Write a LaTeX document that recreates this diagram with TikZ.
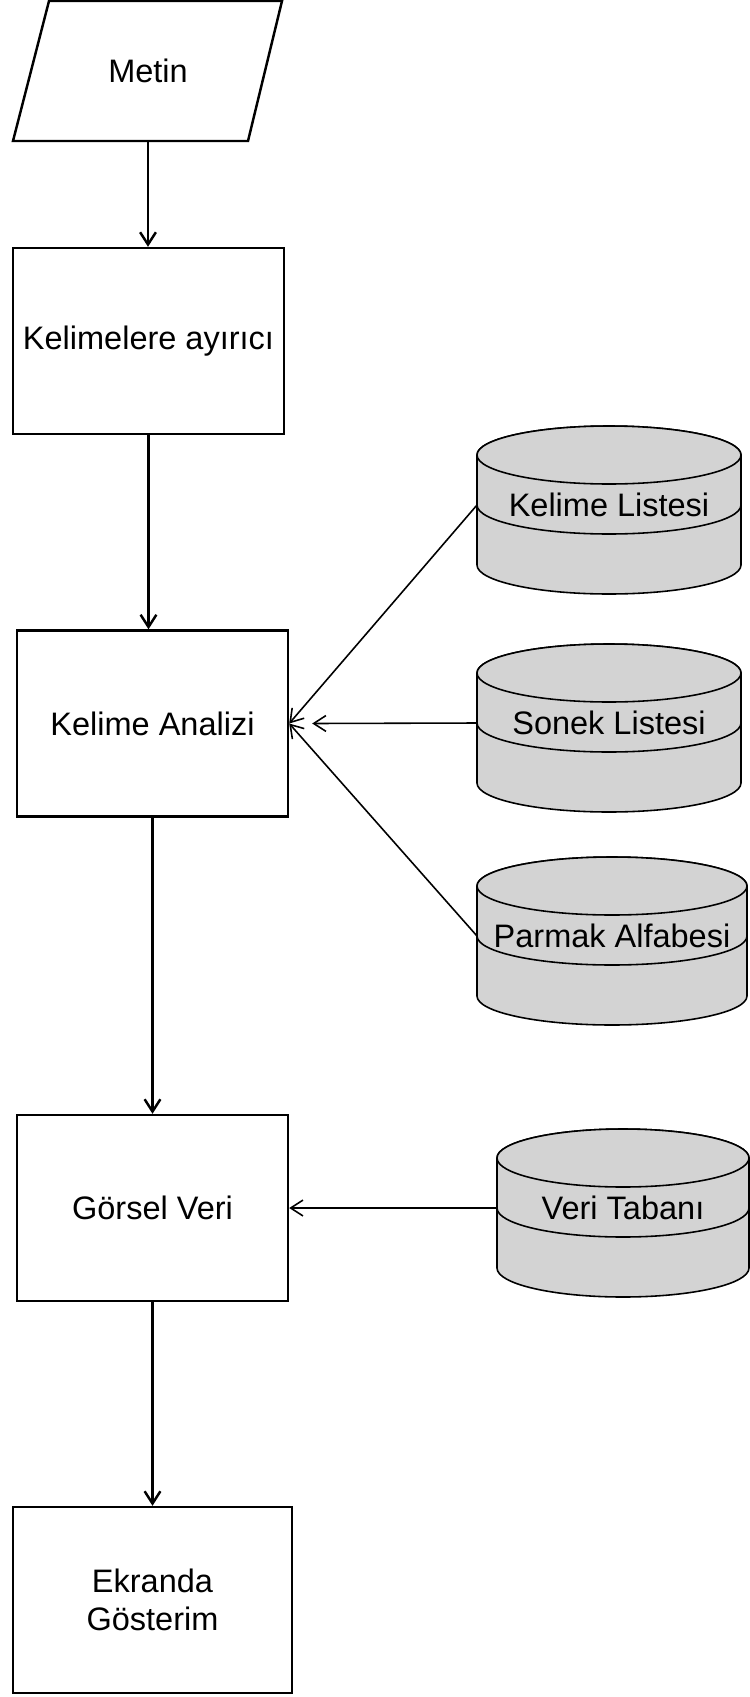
\documentclass[tikz,border=0pt]{standalone}
\usepackage{fontspec}
\setmainfont{Liberation Sans}
\usetikzlibrary{arrows.meta,calc}

\definecolor{dbgray}{RGB}{211,211,211}

\tikzset{
  stepbox/.style={draw, line width=1.4pt, minimum width=5.42cm, minimum height=3.72cm, align=center, inner sep=0pt},
  flowline/.style={line width=1.4pt, -{Straight Barb[length=7pt,width=9pt]}},
  dbline/.style={line width=0.9pt, -{Straight Barb[length=7pt,width=9pt]}},
  cylpart/.style={line width=0.9pt, fill=dbgray},
  dblabel/.style={inner sep=0pt}
}

% database cylinder: name, centre x, band y, half width, text
\newcommand{\dbcyl}[5]{%
  \begin{scope}[shift={(#2,#3)}]
    \filldraw[cylpart] (-#4,-50) -- (-#4,60)
      arc[start angle=180, end angle=360, x radius=#4*0.02cm, y radius=0.58cm]
      -- (#4,-50)
      arc[start angle=0, end angle=180, x radius=#4*0.02cm, y radius=0.58cm] -- cycle;
    \draw[cylpart] (0,-50) ellipse[x radius=#4*0.02cm, y radius=0.58cm];
    \draw[line width=0.9pt] (-#4,0) arc[start angle=180, end angle=360, x radius=#4*0.02cm, y radius=0.58cm];
  \end{scope}
  \node[dblabel] (#1) at (#2,#3) {#5};
  \coordinate (#1-w) at ({#2-#4},#3);
}

\begin{document}
\begin{tikzpicture}[x=0.02cm, y=-0.02cm, font=\fontsize{18.5}{21.5}\selectfont]
\useasboundingbox (0,0) rectangle (750,1697);

% input
\draw[line width=1.4pt] (49,1) -- (282,1) -- (248,141) -- (13,141) -- cycle;
\node[minimum width=4.7cm, minimum height=2.8cm, inner sep=0pt] (metin) at (148,71) {Metin};

\node[stepbox] (ayirici) at (148.5,341) {Kelimelere ayırıcı};
\node[stepbox] (analiz) at (152.5,723.5) {Kelime Analizi};
\node[stepbox] (gorsel) at (152.5,1208) {Görsel Veri};
\node[stepbox, minimum width=5.58cm] (ekran) at (152.5,1600) {Ekranda\\Gösterim};

\dbcyl{kliste}{609}{505}{132}{Kelime Listesi}
\dbcyl{sliste}{609}{723}{132}{Sonek Listesi}
\dbcyl{parmak}{612}{936}{135}{Parmak Alfabesi}
\dbcyl{veri}{623}{1208}{126}{Veri Tabanı}

\draw[flowline] (metin.south) -- (metin.south |- ayirici.north);
\draw[flowline] (ayirici.south) -- (ayirici.south |- analiz.north);
\draw[flowline] (analiz) ++(0,93.5) -- (gorsel.north);
\draw[flowline] (gorsel.south) -- (ekran.north);

\draw[dbline] (kliste-w) -- (analiz.east);
\draw[dbline] (sliste-w) -- ($(analiz.east)+(23,0)$);
\draw[dbline] (parmak-w) -- (analiz.east);
\draw[dbline] (veri-w) -- (gorsel.east);
\end{tikzpicture}
\end{document}
